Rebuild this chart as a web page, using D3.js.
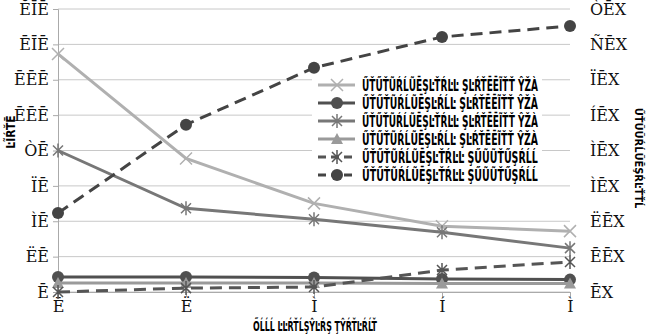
<!DOCTYPE html>
<html><head><meta charset="utf-8">
<script src="https://cdn.jsdelivr.net/npm/d3@7"></script>
<style>body{margin:0;background:#fff}svg text{font-family:"DejaVu Serif",serif}</style>
</head><body><svg id="c" width="646" height="334"></svg>
<script>
const categories = ["Ē","Ë","Ì","Í","Ì"];
const leftTicks = [0,20,40,60,80,100,120,140,160];
const leftTickLabels = ["Ē","ËĒ","ÌĒ","ÏĒ","ÒĒ","ĒĒĒ","ĒĒĒ","ĒĪĒ","ĔĪĒ"];
const rightTicks = [0,10,20,30,40,50,60,70,80];
const rightTickLabels = ["ĒX","ĒĒX","ËĒX","ÌĒX","ÌĒX","ÍĒX","ÏĒX","ÑĒX","ÒĒX"];
const seriesNames = [
 "ŰŤŰŤŨŔĹŨĒŞĿŤŔĿĿ ŞĿŔŤĒĒĨŤŤ ŶŽÀ",
 "ŰŤŰŤŨŔĹŨĒŞĿŔĹĿ ŞĿŔŤĒĒĨŤŤ ŶŽÀ",
 "ŰŤŰŤŨŔĹŨĒŞĿŤŔĿĿ ŞĿŔŤĒĒĨŤŤ ŶŽÀ",
 "ŰŤŰŤŨŔĹŨĒŞĿŔĹĿ ŞĿŔŤĒĒĨŤŤ ŶŽÀ",
 "ŰŤŰŤŨŔĹŨĒŞĿŤŔĿĿ ŞŰŨŨŤŰŞŔĹĹ",
 "ŰŤŰŤŨŔĹŨĒŞĿŤŔĿĿ ŞŰŨŨŤŰŞŔĹĹ"
];
const s1 = [134.6, 75.5, 50.1, 37.2, 34.4];
const s2 = [8.5, 8.5, 8.2, 7.3, 7.0];
const s3 = [80, 47.3, 41.1, 33.8, 24.8];
const s4 = [5.1, 5.1, 5.1, 4.8, 4.8];
const s5 = [0, 1.1, 1.4, 6.2, 8.5];
const s6 = [22.3, 47.3, 63.4, 72.1, 75.2];
const leftTitle = "ĿĨŔŤĒ";
const rightTitle = "ŰŤŨŨŔĹŨĒŞŔĿŤŤĹ";
const xTitle = "ŐĹĹĹ ĿĿŔŤĹŞŶĿŔŞ ŢŶŔŤĿŔĹŤ";

const svg = d3.select("#c");
const L=58, R=570, T=9, B=292;
const x = d3.scalePoint().domain(d3.range(categories.length)).range([L,R]);
const yL = d3.scaleLinear().domain([0,160]).range([B,T]);
const yR = d3.scaleLinear().domain([0,80]).range([B,T]);

svg.append("g").selectAll("line").data(leftTicks).join("line")
 .attr("x1",L).attr("x2",R).attr("y1",d=>yL(d)).attr("y2",d=>yL(d))
 .attr("stroke","#c8c8c8").attr("stroke-width",1);

const axL = svg.append("g").attr("transform",`translate(${L},0)`)
 .call(d3.axisLeft(yL).tickValues(leftTicks).tickFormat((d,i)=>leftTickLabels[i]).tickSize(5).tickPadding(4));
const axR = svg.append("g").attr("transform",`translate(${R},0)`)
 .call(d3.axisRight(yR).tickValues(rightTicks).tickFormat((d,i)=>rightTickLabels[i]).tickSize(0).tickPadding(20));
const axB = svg.append("g").attr("transform",`translate(0,${B})`)
 .call(d3.axisBottom(x).tickFormat(i=>categories[i]).tickSize(5).tickPadding(4));
[axL,axR,axB].forEach(a=>{
 a.selectAll("path").attr("stroke","#aaa");
 a.selectAll("line").attr("stroke","#aaa");
 a.selectAll("text").attr("font-size",16).attr("fill","#111").style("font-family","DejaVu Serif");
});
axR.select("path").remove();

const series = [
 {v:s1, y:yL, color:"#b0b0b0", dash:null, m:"x"},
 {v:s2, y:yL, color:"#505050", dash:null, m:"circle"},
 {v:s3, y:yL, color:"#777777", dash:null, m:"star"},
 {v:s4, y:yL, color:"#9a9a9a", dash:null, m:"tri"},
 {v:s5, y:yR, color:"#555555", dash:"12,7", m:"star"},
 {v:s6, y:yR, color:"#444444", dash:"12,7", m:"circle"}
];
function marker(g,type,color,cx,cy){
 if(type==="circle") g.append("circle").attr("cx",cx).attr("cy",cy).attr("r",6).attr("fill",color);
 else if(type==="tri") g.append("path").attr("d",`M${cx},${cy-6}L${cx+6},${cy+5}L${cx-6},${cy+5}Z`).attr("fill",color);
 else if(type==="x") g.append("path").attr("d",`M${cx-6},${cy-6}L${cx+6},${cy+6}M${cx-6},${cy+6}L${cx+6},${cy-6}`).attr("stroke",color).attr("stroke-width",1.5);
 else g.append("path").attr("d",`M${cx-5},${cy-5}L${cx+5},${cy+5}M${cx-5},${cy+5}L${cx+5},${cy-5}M${cx},${cy-7}L${cx},${cy+7}`).attr("stroke",color).attr("stroke-width",1.5);
}
series.forEach(s=>{
 const line = d3.line().x((d,i)=>x(i)).y(d=>s.y(d));
 svg.append("path").datum(s.v).attr("d",line).attr("fill","none").attr("stroke",s.color)
  .attr("stroke-width",3).attr("stroke-dasharray",s.dash);
 const g = svg.append("g");
 s.v.forEach((d,i)=>marker(g,s.m,s.color,x(i),s.y(d)));
});

// text squeezed horizontally to a target width via a scale transform
function squeezed(parent, tx, ty, str, size, width, anchorMid){
 const t = parent.append("text").attr("font-size",size).attr("font-weight","bold")
  .style("font-family","DejaVu Sans Condensed").text(str);
 const w = t.node().getComputedTextLength();
 const sx = Math.min(1, width / w);
 const x0 = anchorMid ? tx - width/2 : tx;
 t.attr("transform",`translate(${x0},${ty}) scale(${sx},1)`);
 return t;
}

const lg = svg.append("g");
lg.append("rect").attr("x",312).attr("y",76).attr("width",230).attr("height",108).attr("fill","#fff");
series.forEach((s,i)=>{
 const yy = 85 + i*18;
 lg.append("line").attr("x1",318).attr("x2",355).attr("y1",yy).attr("y2",yy).attr("stroke",s.color)
  .attr("stroke-width",3).attr("stroke-dasharray",s.dash?"8,5":null);
 marker(lg,s.m,s.color,337,yy);
 squeezed(lg, 362, yy+6, seriesNames[i], 15, 176, false);
});

svg.append("text").attr("transform","translate(15,132) rotate(-90)").attr("text-anchor","middle")
 .attr("font-size",12).attr("font-weight","bold").style("font-family","DejaVu Sans Condensed").text(leftTitle);
svg.append("text").attr("transform","translate(635,158) rotate(90)").attr("text-anchor","middle")
 .attr("font-size",11).attr("font-weight","bold").style("font-family","DejaVu Sans Condensed").text(rightTitle);
squeezed(svg, 315, 331, xTitle, 14, 124, true);
</script></body></html>
